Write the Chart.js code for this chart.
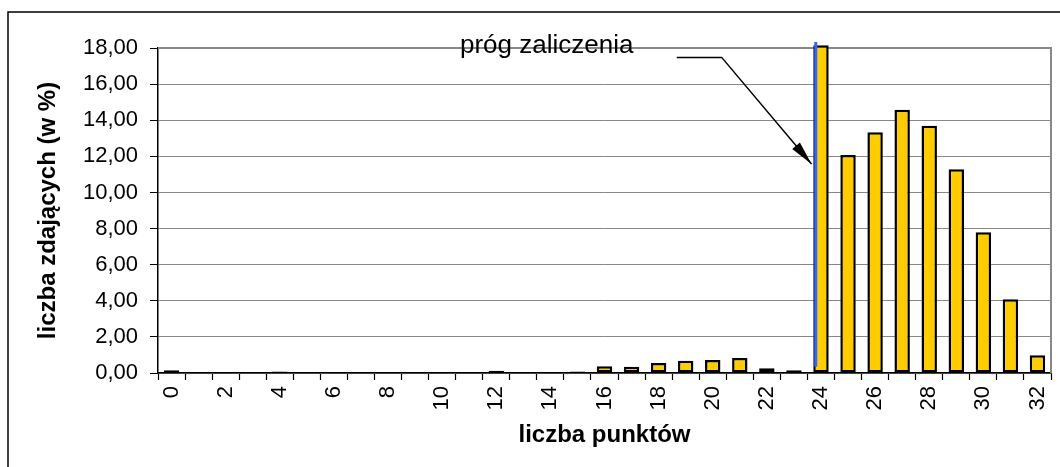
<!DOCTYPE html>
<html>
<head>
<meta charset="utf-8">
<script src="https://cdn.jsdelivr.net/npm/chart.js@4/dist/chart.umd.min.js"></script>
<style>
  html, body { margin: 0; padding: 0; background: #fff; }
  #wrap { width: 1060px; height: 467px; position: relative; }
</style>
</head>
<body>
<div id="wrap"><canvas id="myChart"></canvas></div>
<script>
const punkty = [];
for (let i = 0; i <= 32; i++) punkty.push(String(i));

const procent = [
  0.15, 0, 0, 0, 0.08, 0, 0, 0, 0, 0, 0,
  0, 0.12, 0, 0.06, 0.08, 0.38, 0.35, 0.55, 0.68, 0.72,
  0.83, 0.27, 0.15, 18.15, 12.08, 13.33, 14.58, 13.69, 11.28, 7.80,
  4.08, 0.99,
];

const yTicks = [0, 2, 4, 6, 8, 10, 12, 14, 16, 18];

// threshold (próg zaliczenia) at 24 points
const progIndex = 24;
const progLine = [0.35, 18.33];   // bottom / top value of blue line
const progLabel = "próg zaliczenia";
const progLabelAt = [10.66, 17.72];
const progArrow = [[18.67, 17.48], [20.33, 17.48], [23.65, 11.57]];

const FONT = "'Liberation Sans', Arial, sans-serif";
Chart.defaults.font.family = FONT;
Chart.defaults.color = "#000";

const ramka = {
  id: "ramka",
  beforeDraw(chart) {
    const c = chart.ctx;
    c.save();
    c.fillStyle = "#fff";
    c.fillRect(0, 0, chart.width, chart.height);
    c.strokeStyle = "#000";
    c.lineWidth = 1.5;
    c.beginPath();
    c.moveTo(8, chart.height + 2);
    c.lineTo(8, 12);
    c.lineTo(chart.width + 2, 12);
    c.stroke();
    c.restore();
  },
  beforeDatasetsDraw(chart) {
    const a = chart.chartArea;
    const c = chart.ctx;
    c.save();
    c.strokeStyle = "#888";
    c.lineWidth = 2;
    c.beginPath();
    c.moveTo(a.left, a.top);
    c.lineTo(a.right, a.top);
    c.lineTo(a.right, a.bottom);
    c.stroke();
    c.restore();
  },
  afterDatasetsDraw(chart) {
    const c = chart.ctx;
    const x = chart.scales.x, y = chart.scales.y;
    const bar = chart.getDatasetMeta(0).data[progIndex];
    // blue threshold line
    const lx = bar.x - bar.width / 2 + 2.5;
    c.save();
    c.strokeStyle = "#3366ff";
    c.lineWidth = 3;
    c.beginPath();
    c.moveTo(lx, y.getPixelForValue(progLine[0]));
    c.lineTo(lx, y.getPixelForValue(progLine[1]));
    c.stroke();

    // label
    c.fillStyle = "#000";
    c.font = "26px " + FONT;
    c.textBaseline = "alphabetic";
    c.textAlign = "left";
    c.fillText(progLabel, x.getPixelForValue(progLabelAt[0]), y.getPixelForValue(progLabelAt[1]));

    // arrow
    const pts = progArrow.map(p => [x.getPixelForValue(p[0]), y.getPixelForValue(p[1])]);
    c.strokeStyle = "#000";
    c.lineWidth = 1.5;
    c.beginPath();
    c.moveTo(pts[0][0], pts[0][1]);
    for (let i = 1; i < pts.length; i++) c.lineTo(pts[i][0], pts[i][1]);
    c.stroke();
    const [px, py] = pts[pts.length - 2];
    const [tx, ty] = pts[pts.length - 1];
    const ang = Math.atan2(ty - py, tx - px);
    const len = 24, half = 5;
    c.beginPath();
    c.moveTo(tx, ty);
    c.lineTo(tx - len * Math.cos(ang) + half * Math.sin(ang), ty - len * Math.sin(ang) - half * Math.cos(ang));
    c.lineTo(tx - len * Math.cos(ang) - half * Math.sin(ang), ty - len * Math.sin(ang) + half * Math.cos(ang));
    c.closePath();
    c.fill();
    c.restore();
  },
};

const ctx = document.getElementById("myChart").getContext("2d");

const myChart = new Chart(ctx, {
  type: "bar",
  data: {
    labels: punkty,
    datasets: [{
      data: procent,
      backgroundColor: "#ffcc00",
      borderColor: "#000",
      borderWidth: 2.5,
      borderSkipped: false,
      barPercentage: 0.57,
      categoryPercentage: 1,
      clip: false,
    }],
  },
  options: {
    responsive: true,
    maintainAspectRatio: false,
    animation: false,
    layout: { padding: { top: 48, right: 9, left: 0, bottom: 0 } },
    plugins: {
      legend: { display: false },
      tooltip: { enabled: false },
    },
    scales: {
      x: {
        afterFit(s) { s.height = 94; s.paddingLeft = 0; s.paddingRight = 0; },
        grid: {
          display: true,
          drawOnChartArea: false,
          offset: true,
          tickLength: 7,
          tickColor: "#000",
          tickWidth: 1.2,
        },
        border: { color: "#000", width: 1.5 },
        ticks: {
          autoSkip: false,
          minRotation: 90,
          maxRotation: 90,
          padding: 6,
          font: { size: 22 },
          callback(v, i) { return i % 2 === 0 ? punkty[i] : ""; },
        },
        title: {
          display: true,
          text: "liczba punktów",
          font: { size: 24, weight: "bold" },
          padding: { top: 0, bottom: 17 },
        },
      },
      y: {
        min: 0,
        max: 18,
        afterFit(s) { s.width = 158; s.paddingTop = 0; s.paddingBottom = 0; },
        afterBuildTicks(s) { s.ticks = yTicks.map(v => ({ value: v })); },
        grid: {
          color: "#888",
          lineWidth: 1,
          tickLength: 8,
          tickColor: "#000",
        },
        border: { color: "#000", width: 1.5 },
        ticks: {
          padding: 12,
          font: { size: 22 },
          callback(v) { return v.toFixed(2).replace(".", ","); },
        },
        title: {
          display: true,
          text: "liczba zdających (w %)",
          font: { size: 24, weight: "bold" },
          padding: { top: 34, bottom: 0 },
        },
      },
    },
  },
  plugins: [ramka],
});
</script>
</body>
</html>
